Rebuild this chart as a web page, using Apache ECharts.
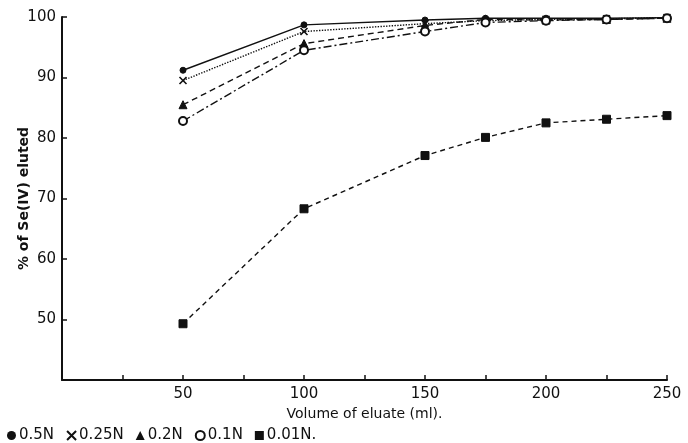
<!DOCTYPE html>
<html>
<head>
<meta charset="utf-8">
<script src="https://cdn.jsdelivr.net/npm/echarts@6/dist/echarts.min.js"></script>
<style>
  html, body { margin: 0; padding: 0; background: #fff; }
  #chart { width: 688px; height: 443px; }
</style>
</head>
<body>
<div id="chart"></div>
<script>
// Elution of Se(IV) at different acid normalities
const volumes = [50, 100, 150, 175, 200, 225, 250];
const n05  = [91.2, 98.7, 99.5, 99.8, 99.8, 99.8, 99.9];
const n025 = [89.5, 97.6, 98.9, 99.4, 99.6, 99.7, 99.9];
const n02  = [85.5, 95.6, 98.6, 99.6, 99.5, 99.6, 99.8];
const n01  = [82.8, 94.5, 97.6, 99.1, 99.4, 99.6, 99.8];
const n001 = [49.3, 68.3, 77.1, 80.1, 82.5, 83.1, 83.7];
const seriesNames = ['0.5N', '0.25N', '0.2N', '0.1N', '0.01N'];
const xTickLabels = [50, 100, 150, 200, 250];
const yTickLabels = [50, 60, 70, 80, 90, 100];

const crossPath = 'path://M0,0L10,10M10,0L0,10';
const ink = '#111';
const font = '"DejaVu Sans", sans-serif';

function pairs(vals) { return volumes.map((v, i) => [v, vals[i]]); }

function makeSeries(name, vals, symbol, size, lineType, extraItem) {
  return {
    name: name,
    type: 'line',
    data: pairs(vals),
    symbol: symbol,
    symbolSize: size,
    lineStyle: { color: ink, width: 1.4, type: lineType },
    itemStyle: Object.assign({ color: ink, borderColor: ink }, extraItem || {}),
    emphasis: { disabled: true },
    animation: false
  };
}

const chart = echarts.init(document.getElementById('chart'));
chart.setOption({
  backgroundColor: '#fff',
  animation: false,
  grid: { left: 62, right: 21, top: 17, bottom: 63, containLabel: false, outerBoundsMode: 'none' },
  xAxis: {
    type: 'value',
    min: 0, max: 250, interval: 25,
    name: 'Volume of eluate (ml).',
    nameLocation: 'middle',
    nameGap: 27,
    nameMoveOverlap: false,
    nameTextStyle: { color: ink, fontSize: 14, fontFamily: font },
    axisLine: { lineStyle: { color: ink, width: 2 } },
    axisTick: { inside: true, length: 5, lineStyle: { color: ink, width: 1.5 } },
    axisLabel: {
      color: ink, fontSize: 15, fontFamily: font, margin: 7,
      formatter: v => xTickLabels.indexOf(v) >= 0 ? String(v) : ''
    },
    splitLine: { show: false }
  },
  yAxis: {
    type: 'value',
    min: 40, max: 100, interval: 10,
    name: '% of Se(IV) eluted',
    nameLocation: 'middle',
    nameGap: 31,
    nameMoveOverlap: false,
    nameRotate: 90,
    nameTextStyle: { color: ink, fontSize: 14, fontFamily: font, fontWeight: 'bold' },
    axisLine: { show: true, lineStyle: { color: ink, width: 2 } },
    axisTick: { show: true, inside: true, length: 5, lineStyle: { color: ink, width: 1.5 } },
    axisLabel: {
      color: ink, fontSize: 15, fontFamily: font, margin: 6,
      formatter: v => yTickLabels.indexOf(v) >= 0 ? String(v) : ''
    },
    splitLine: { show: false }
  },
  legend: {
    left: 2, bottom: -5,
    itemWidth: 9, itemHeight: 9, itemGap: 12,
    textStyle: { color: ink, fontSize: 15, fontFamily: font, padding: [0, 0, 0, -2] },
    formatter: name => name === '0.01N' ? name + '.' : name,
    data: [
      { name: seriesNames[0], icon: 'circle' },
      { name: seriesNames[1], icon: crossPath },
      { name: seriesNames[2], icon: 'triangle' },
      { name: seriesNames[3], icon: 'emptyCircle' },
      { name: seriesNames[4], icon: 'rect' }
    ]
  },
  series: [
    makeSeries(seriesNames[0], n05, 'circle', 6, 'solid'),
    makeSeries(seriesNames[1], n025, crossPath, 7, 'dotted', { borderWidth: 1.6 }),
    makeSeries(seriesNames[2], n02, 'triangle', 8, [6, 4]),
    makeSeries(seriesNames[3], n01, 'emptyCircle', 8, [8, 3, 2, 3], { borderWidth: 1.6 }),
    makeSeries(seriesNames[4], n001, 'rect', 8, [5, 4])
  ]
});
</script>
</body>
</html>
